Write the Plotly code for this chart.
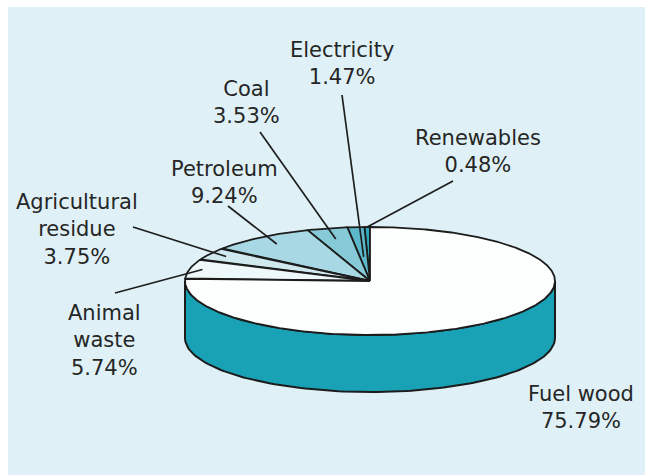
import numpy as np
import plotly.graph_objects as go

# ---- data ----
categories = ["Renewables", "Electricity", "Coal", "Petroleum",
              "Agricultural<br>residue", "Animal<br>waste", "Fuel wood"]
shares = [0.48, 1.47, 3.53, 9.24, 3.75, 5.74, 75.79]
pct_labels = ["0.48%", "1.47%", "3.53%", "9.24%", "3.75%", "5.74%", "75.79%"]

# ---- styling / layout constants ----
colors = ["#2ea6bc", "#5bb8cb", "#86c9d7", "#a7d8e3", "#cfe9ef", "#eef7f9", "#fdfefe"]
side_color = "#19a1b5"
edge = "#1c1c1c"
BG = "#dff1f6"
W, H = 645, 475
CX, CY, RX, RY, DEPTH = 370, 281, 185, 54, 57
START = 90.0  # degrees, slices run counter-clockwise from the top

label_pos = [(478, 151), (342, 63), (246, 102), (224, 182), (77, 229), (104, 340), (581, 407)]
leader_start = [(453, 181), (342, 95), (260, 132), (228, 206), (133, 227), (115, 293), None]
leader_t = [1.0, 0.45, 0.8, 0.85, 0.9, 0.93, None]


def pt(theta_deg, t=1.0, dz=0.0):
    th = np.radians(theta_deg)
    return CX + RX * t * np.cos(th), CY - RY * t * np.sin(th) + dz


fig = go.Figure()

# side band (front half of the cylinder)
ang = np.linspace(180, 360, 120)
top = [pt(a) for a in ang]
bot = [pt(a, dz=DEPTH) for a in ang[::-1]]
poly = top + bot + [top[0]]
fig.add_trace(go.Scatter(x=[p[0] for p in poly], y=[p[1] for p in poly], mode="lines",
                         fill="toself", fillcolor=side_color,
                         line=dict(color=edge, width=2), hoverinfo="skip", showlegend=False))

# top face slices
total = sum(shares)
a0 = START
bounds = []
for v in shares:
    a1 = a0 + v / total * 360.0
    bounds.append((a0, a1))
    a0 = a1

for (s, e), c in zip(bounds, colors):
    arc = np.linspace(s, e, max(4, int((e - s) * 2)))
    pts = [(CX, CY)] + [pt(a) for a in arc] + [(CX, CY)]
    fig.add_trace(go.Scatter(x=[p[0] for p in pts], y=[p[1] for p in pts], mode="lines",
                             fill="toself", fillcolor=c,
                             line=dict(color=edge, width=1.8), hoverinfo="skip", showlegend=False))

# leader lines
for (s, e), st, t in zip(bounds, leader_start, leader_t):
    if st is None:
        continue
    ex, ey = pt((s + e) / 2, t)
    fig.add_trace(go.Scatter(x=[st[0], ex], y=[st[1], ey], mode="lines",
                             line=dict(color="#1e1e1e", width=1.7),
                             hoverinfo="skip", showlegend=False))

annotations = []
for name, pl, (lx, ly) in zip(categories, pct_labels, label_pos):
    annotations.append(dict(x=lx, y=ly, xref="x", yref="y", text=f"{name}<br>{pl}",
                            showarrow=False, align="center",
                            font=dict(family="DejaVu Sans", size=21, color="#262626")))

fig.update_layout(
    width=W, height=H,
    margin=dict(l=0, r=0, t=0, b=0),
    paper_bgcolor="white", plot_bgcolor="rgba(0,0,0,0)",
    xaxis=dict(range=[0, W], visible=False, fixedrange=True),
    yaxis=dict(range=[H, 0], visible=False, fixedrange=True),
    shapes=[dict(type="rect", xref="x", yref="y", x0=8, y0=7, x1=W, y1=H,
                 fillcolor=BG, line=dict(width=0), layer="below")],
    annotations=annotations,
)

fig.write_html(
    "out.html",
    config={"displayModeBar": False, "staticPlot": True},
    post_script="document.body.style.margin='0';"
                "document.documentElement.style.overflow='hidden';"
                "document.body.style.overflow='hidden';",
)
